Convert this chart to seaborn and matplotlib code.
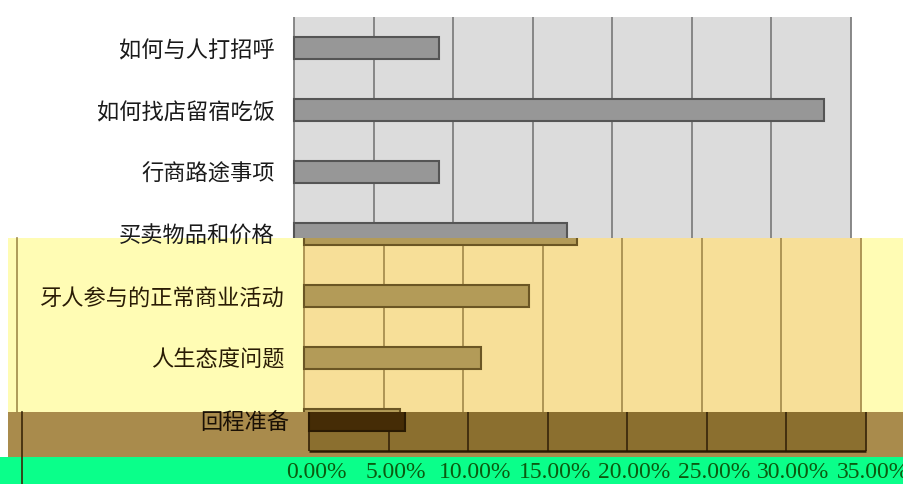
import matplotlib
matplotlib.use("Agg")
import matplotlib.pyplot as plt
from matplotlib.patches import Rectangle
from matplotlib.lines import Line2D
from matplotlib.transforms import ScaledTranslation
import pandas as pd
import seaborn as sns

plt.rcParams['font.family'] = ['Noto Sans CJK SC', 'DejaVu Sans']

topics = ['如何与人打招呼', '如何找店留宿吃饭', '行商路途事项', '买卖物品和价格',
          '牙人参与的正常商业活动', '人生态度问题', '回程准备']
share = [9.09, 33.33, 9.09, 17.17, 14.14, 11.11, 6.06]
xticks = [0, 5, 10, 15, 20, 25, 30, 35]
xlabels = ['0.00%', '5.00%', '10.00%', '15.00%', '20.00%', '25.00%', '30.00%', '35.00%']

df = pd.DataFrame({'topic': topics, 'share': share})

W, H = 904, 484
fig = plt.figure(figsize=(W / 100, H / 100), dpi=100, facecolor='white')

def fig_rect(x0, y0, x1, y1, color):
    # pixel box (top-left origin) -> figure fraction
    r = Rectangle((x0 / W, 1 - y1 / H), (x1 - x0) / W, (y1 - y0) / H,
                  transform=fig.transFigure, facecolor=color, edgecolor='none', zorder=-5)
    fig.patches.append(r)

# colour bands of the scanned picture
fig_rect(8, 238, W, 412, '#fffcb4')
fig_rect(8, 412, W, 457, '#a98b4c')
fig_rect(0, 457, W, H, '#0aff8a')
fig.add_artist(Line2D([17 / W, 17 / W], [1 - 238 / H, 1 - 412 / H], color='#a08a4a', lw=1.2))
fig.add_artist(Line2D([22 / W, 22 / W], [1 - 412 / H, 0], color='#3a2708', lw=1.2))

ax = fig.add_axes([294 / W, 1 - 451 / H, (851 - 294) / W, 434 / H])
ax.set_facecolor('none')

# band limits in data units (category index), horizontal slip in px, colours
bands = [
    (-0.5, 3.06, 0, '#dcdcdc', '#979797', '#555555', '#808080', '#1a1a1a'),
    (3.06, 5.87, 10, '#f7df98', '#b39b58', '#6b5624', '#a88f4f', '#2a1c05'),
    (5.87, 6.5, 15, '#8b6f2f', '#452c06', '#2a1a02', '#3d2a0c', '#1a1005'),
]

for y0, y1, dx, panel, face, edge, grid, _ in bands:
    slip = ScaledTranslation(dx / 100, 0, fig.dpi_scale_trans)
    span = ax.axhspan(y0, y1, color=panel, zorder=0, lw=0, clip_on=False)
    span.set_transform(span.get_data_transform() + slip)
    vl = ax.vlines(xticks, y0, y1, color=grid, lw=1.3, zorder=1, clip_on=False)
    vl.set_transform(vl.get_transform() + slip)
    n = len(ax.patches)
    sns.barplot(data=df, y='topic', x='share', orient='h', color=face,
                edgecolor=edge, linewidth=1.5, width=0.37, saturation=1,
                errorbar=None, ax=ax)
    clip = Rectangle((-1, y0), 40, y1 - y0, transform=ax.transData + slip)
    for p in ax.patches[n:]:
        p.set_transform(p.get_data_transform() + slip)
        p.set_clip_path(clip)
        p.set_zorder(2)

# bottom frame line in the brown band
base = ax.hlines(6.5, 0, 35, color='#2a1a02', lw=1.8, zorder=3, clip_on=False)
base.set_transform(base.get_transform() + ScaledTranslation(0.15, 0, fig.dpi_scale_trans))

ax.set_xlim(0, 35)
ax.set_ylim(6.5, -0.5)
ax.set_xlabel('')
ax.set_ylabel('')
for s in ax.spines.values():
    s.set_visible(False)

ax.set_xticks(xticks)
ax.set_xticklabels(xlabels, family='Liberation Serif', fontsize=17, color='#0b5a0f')
ax.tick_params(axis='x', length=0, pad=8)
ax.tick_params(axis='y', length=0, pad=14)
shift = ScaledTranslation(0.22, 0, fig.dpi_scale_trans)
for lab in ax.get_xticklabels():
    lab.set_transform(lab.get_transform() + shift)

for i, lab in enumerate(ax.get_yticklabels()):
    b = bands[0] if i < 4 else (bands[1] if i < 6 else bands[2])
    lab.set_fontsize(16)
    lab.set_color(b[7])
    lab.set_transform(lab.get_transform() + ScaledTranslation(b[2] / 100, 0, fig.dpi_scale_trans))

fig.savefig('out.png', dpi=100, facecolor=fig.get_facecolor())
